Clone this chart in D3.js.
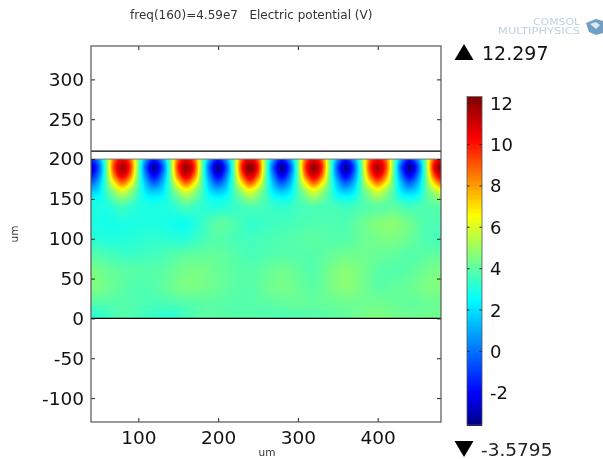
<!DOCTYPE html>
<html><head><meta charset="utf-8">
<script src="https://cdn.jsdelivr.net/npm/d3@7"></script>
<style>
html,body{margin:0;padding:0;background:#fff;overflow:hidden}
#wrap{position:relative;width:603px;height:459px}
canvas,svg{position:absolute;left:0;top:0}
text{font-family:"DejaVu Sans",sans-serif}
</style></head><body><div id="wrap"></div>
<script>
// --- data ---
const titleText = "freq(160)=4.59e7   Electric potential (V)";
const axisLabel = "um";
const xTicks = [100, 200, 300, 400];
const yTicks = [300, 250, 200, 150, 100, 50, 0, -50, -100];
const barTicks = [12, 10, 8, 6, 4, 2, 0, -2];
const maxLabel = "12.297", minLabel = "-3.5795";
const valueMax = 12.297, valueMin = -3.5795;
const boundaryLevels = [210, 0];
const colStart = 40, colEnd = 480;
const rowY = [200,190,180,170,160,150,140,120,100,80,60,40,20,0];
// rows near the electrode surface, read every 10 um
const row200 = [-1.4,0.6,4.5,8.9,10.4,8.9,4.5,0.6,-1.5,0.6,4.5,9.0,10.5,9.0,4.5,0.6,-1.6,0.6,4.5,9.1,10.7,9.1,4.5,0.6,-1.6,0.6,4.5,9.0,10.5,9.0,4.5,0.6,-1.6,0.6,4.5,8.9,10.3,8.9,4.5,0.6,-1.6,0.6,4.5,9.2,10.8];
const row190 = [-2.9,-0.6,4.2,9.6,11.6,9.6,4.2,-0.7,-3.1,-0.7,4.2,9.8,11.8,9.8,4.2,-0.7,-3.3,-0.8,4.3,10.0,12.2,10.0,4.2,-0.8,-3.3,-0.8,4.3,9.8,11.9,9.8,4.3,-0.7,-3.2,-0.7,4.3,9.5,11.5,9.5,4.3,-0.8,-3.3,-0.8,4.3,10.1,12.3];
const row180 = [-2.0,0.1,4.1,8.7,10.8,8.7,4.1,0.1,-2.1,0.1,4.1,8.9,11.0,8.9,4.1,0.0,-2.3,0.0,4.1,9.0,11.2,9.0,4.1,0.0,-2.3,0.0,4.1,8.9,11.0,8.9,4.1,0.0,-2.2,0.0,4.1,8.6,10.7,8.6,4.1,0.0,-2.2,0.0,4.1,9.0,11.3];
const row170 = [-0.3,1.2,3.9,6.8,8.6,6.8,3.9,1.2,-0.3,1.2,3.9,6.9,8.8,6.9,3.9,1.1,-0.4,1.1,4.0,7.0,9.0,7.0,3.9,1.1,-0.4,1.1,4.0,6.9,8.8,6.9,4.0,1.2,-0.3,1.2,4.0,6.8,8.5,6.8,4.0,1.2,-0.3,1.2,4.0,7.0,9.0];
const row160 = [1.5,2.0,3.6,5.0,6.1,5.0,3.6,2.0,1.5,2.0,3.6,5.1,6.2,5.1,3.7,2.0,1.4,2.0,3.7,5.2,6.3,5.2,3.7,2.0,1.4,2.1,3.7,5.1,6.2,5.1,3.7,2.1,1.5,2.1,3.8,5.1,6.1,5.1,3.8,2.1,1.5,2.1,3.8,5.2,6.3];
const row150 = [2.5,2.7,3.2,4.1,4.6,4.1,3.2,2.7,2.5,2.7,3.3,4.1,4.7,4.2,3.4,2.8,2.6,2.8,3.5,4.2,4.8,4.3,3.6,2.9,2.7,2.9,3.6,4.3,4.8,4.3,3.6,3.0,2.8,3.0,3.7,4.4,4.8,4.4,3.7,3.1,2.8,3.1,3.8,4.4,4.8];
const row140 = [3.0,3.0,3.0,3.3,3.6,3.3,3.1,3.0,3.0,3.0,3.1,3.4,3.7,3.5,3.3,3.1,3.1,3.2,3.4,3.6,3.8,3.7,3.6,3.4,3.3,3.4,3.6,3.7,3.8,3.7,3.7,3.6,3.5,3.6,3.8,3.9,4.0,4.0,4.1,3.8,3.6,3.7,3.8,3.9,4.0];
// deeper rows, read every 20 um
const row120 = [3.0,2.9,3.0,3.0,3.0,2.9,2.8,3.4,4.0,3.8,3.4,3.5,3.6,3.7,3.8,3.8,3.8,4.2,4.6,4.7,4.3,3.8,3.8];
const row100 = [3.2,3.1,3.1,3.2,3.3,3.2,3.2,3.6,3.9,3.7,3.6,3.7,3.8,3.9,4.0,3.9,3.9,4.2,4.4,4.5,4.2,3.8,3.7];
const row80 = [3.9,3.7,3.5,3.5,3.6,3.8,4.0,4.1,4.1,3.9,3.7,3.8,3.9,3.9,3.9,4.1,4.3,4.3,4.2,4.1,3.9,4.0,4.1];
const row60 = [4.5,4.2,4.0,3.9,3.9,4.1,4.4,4.4,4.2,4.0,3.9,4.1,4.3,4.1,3.9,4.4,4.7,4.4,4.0,3.9,4.0,4.3,4.5];
const row40 = [4.6,4.3,4.0,3.8,3.9,4.2,4.5,4.4,4.2,4.0,3.9,4.2,4.4,4.2,4.0,4.4,4.7,4.4,4.0,4.1,4.2,4.5,4.6];
const row20 = [3.9,3.9,3.9,3.8,3.7,3.8,3.9,4.0,4.0,3.9,3.9,4.0,4.1,4.2,4.1,4.2,4.3,4.3,4.3,4.2,4.1,4.2,4.3];
const row0 = [3.1,3.4,3.9,3.7,3.4,3.2,3.6,4.0,4.0,3.9,3.9,3.8,3.8,3.8,3.9,4.0,4.1,4.4,4.6,4.4,4.3,4.3,4.4];
const fieldRows = [row200,row190,row180,row170,row160,row150,row140,row120,row100,row80,row60,row40,row20,row0];

// --- scales ---
const W = 603, H = 459;
const x = d3.scaleLinear().domain([40.7, 479.3]).range([91, 441]);
const y = d3.scaleLinear().domain([341.9, -130]).range([46, 422]);
const barY = d3.scaleLinear().domain([valueMax, valueMin]).range([96.5, 425]);
const jetStops = [valueMin, -2, 2.55, 6.6, 10.3, valueMax];
const jet = d3.scaleLinear().domain(jetStops)
  .range(["#000080","#0000ff","#00ffff","#ffff00","#ff0000","#800000"]).clamp(true);
const rowIndex = d3.scaleLinear().domain(rowY).range(d3.range(rowY.length)).clamp(true);

// smooth display of the sampled field (Catmull-Rom between read samples)
const cr = (a,b,c,d,t) => 0.5*((2*b)+(c-a)*t+(2*a-5*b+4*c-d)*t*t+(3*b-a-3*c+d)*t*t*t);
function sampleRow(r, ux){
  const R = fieldRows[Math.max(0, Math.min(fieldRows.length-1, r))];
  const n = R.length;
  const ci = Math.max(0, Math.min(n-1, (ux-colStart)/(colEnd-colStart)*(n-1)));
  const i = Math.min(Math.floor(ci), n-2), t = ci - i;
  const g = k => R[Math.max(0, Math.min(n-1, k))];
  return cr(g(i-1), g(i), g(i+1), g(i+2), t);
}
function fieldAt(ux, uy){
  const ri = rowIndex(uy);
  const j = Math.min(Math.floor(ri), rowY.length-2), t = ri - j;
  return cr(sampleRow(j-1,ux), sampleRow(j,ux), sampleRow(j+1,ux), sampleRow(j+2,ux), t);
}

// --- field on canvas ---
const wrap = d3.select("#wrap");
const cv = wrap.append("canvas").attr("width", W).attr("height", H);
const ctx = cv.node().getContext("2d");
const x0 = Math.round(x.range()[0]), x1 = Math.round(x.range()[1]);
const y0 = Math.round(y(200)), y1 = Math.round(y(0));
for (let py = y0; py < y1; py++) for (let px = x0; px < x1; px++) {
  ctx.fillStyle = jet(fieldAt(x.invert(px + 0.5), y.invert(py + 0.5)));
  ctx.fillRect(px, py, 1, 1);
}

// --- svg overlay ---
const svg = wrap.append("svg").attr("width", W).attr("height", H);
const frameColor = "#555";
boundaryLevels.forEach(v => svg.append("line").attr("x1", x.range()[0]).attr("x2", x.range()[1])
  .attr("y1", y(v)).attr("y2", y(v)).attr("stroke", "#000").attr("stroke-width", 1.2));
svg.append("line").attr("x1", x.range()[0]).attr("x2", x.range()[1]).attr("y1", y(200)).attr("y2", y(200))
  .attr("stroke", "#777").attr("stroke-width", 1);

function styleAxis(g, showText){
  g.select(".domain").remove();
  g.selectAll(".tick line").attr("stroke", "#222").attr("stroke-width", 1);
  if (showText) g.selectAll(".tick text").attr("font-size", 18.5).attr("fill", "#111").attr("font-family", '"DejaVu Sans",sans-serif');
  else g.selectAll(".tick text").remove();
}
const fmt = d3.format("d");
svg.append("g").attr("transform", `translate(${x.range()[0]},0)`)
  .call(d3.axisLeft(y).tickValues(yTicks).tickSize(-4).tickPadding(7).tickFormat(d => String(d)))
  .call(g => styleAxis(g, true));
svg.append("g").attr("transform", `translate(${x.range()[1]},0)`)
  .call(d3.axisRight(y).tickValues(yTicks).tickSize(-4)).call(g => styleAxis(g, false));
svg.append("g").attr("transform", `translate(0,${y.range()[1]})`)
  .call(d3.axisBottom(x).tickValues(xTicks).tickSize(-4).tickPadding(9).tickFormat(fmt))
  .call(g => styleAxis(g, true));
svg.append("g").attr("transform", `translate(0,${y.range()[0]})`)
  .call(d3.axisTop(x).tickValues(xTicks).tickSize(-4)).call(g => styleAxis(g, false));
svg.append("rect").attr("x", x.range()[0]).attr("y", y.range()[0])
  .attr("width", x.range()[1]-x.range()[0]).attr("height", y.range()[1]-y.range()[0])
  .attr("fill", "none").attr("stroke", frameColor).attr("stroke-width", 1.2);

// titles
svg.append("text").attr("x", 130).attr("y", 19).attr("font-size", 12).attr("fill", "#333")
  .style("white-space", "pre").text(titleText);
svg.append("text").attr("transform", "translate(18,234) rotate(-90)").attr("text-anchor", "middle")
  .attr("font-size", 10.5).attr("fill", "#333").text(axisLabel);
svg.append("text").attr("x", 267).attr("y", 456).attr("text-anchor", "middle")
  .attr("font-size", 10.5).attr("fill", "#333").text(axisLabel);

// colour bar
const bx = 467, bw = 15;
const levels = d3.range(0, 256).map(i => valueMin + (i + 0.5) / 256 * (valueMax - valueMin));
const step = (valueMax - valueMin) / 256;
svg.append("g").attr("shape-rendering", "crispEdges").selectAll("rect").data(levels).join("rect")
  .attr("x", bx).attr("width", bw)
  .attr("y", d => barY(d + step / 2))
  .attr("height", d => barY(d - step / 2) - barY(d + step / 2) + 1)
  .attr("fill", d => jet(d));
svg.append("g").attr("transform", `translate(${bx},0)`)
  .call(d3.axisRight(barY).tickValues(barTicks).tickSize(2.5)).call(g => styleAxis(g, false));
svg.append("g").attr("transform", `translate(${bx+bw},0)`)
  .call(d3.axisLeft(barY).tickValues(barTicks).tickSize(2.5)).call(g => styleAxis(g, false));
svg.append("rect").attr("x", bx).attr("y", barY.range()[0]).attr("width", bw)
  .attr("height", barY.range()[1]-barY.range()[0]).attr("fill", "none").attr("stroke", "#555").attr("stroke-width", 0.8);
svg.append("g").selectAll("text").data(barTicks).join("text")
  .attr("x", bx + bw + 8).attr("y", d => barY(d) + 7).attr("font-size", 18).attr("fill", "#111").text(d => d);

// max / min markers
svg.append("path").attr("d", "M464,44 L473.5,60 L454.5,60 Z").attr("fill", "#000");
svg.append("path").attr("d", "M464,457 L473.5,441 L454.5,441 Z").attr("fill", "#000");
svg.append("text").attr("x", 482).attr("y", 60).attr("font-size", 19).attr("fill", "#111").text(maxLabel);
svg.append("text").attr("x", 481).attr("y", 456).attr("font-size", 18.5).attr("fill", "#222").text(minLabel);

// logo
const logoFill = "#bcd0df";
svg.append("text").attr("x", 580).attr("y", 25).attr("text-anchor", "end").attr("font-size", 8)
  .attr("textLength", 47).attr("lengthAdjust", "spacingAndGlyphs").attr("fill", logoFill).text("COMSOL");
svg.append("text").attr("x", 580).attr("y", 34).attr("text-anchor", "end").attr("font-size", 8)
  .attr("textLength", 82).attr("lengthAdjust", "spacingAndGlyphs").attr("fill", logoFill).text("MULTIPHYSICS");
svg.append("path").attr("d", "M586,23 L596,19 L603,21 L603,33 L596,35 L589,32 Z").attr("fill", "#6f9fc4");
svg.append("path").attr("d", "M590,24 L596,22 L600,25 L596,29 Z").attr("fill", "#dbe8f1");
</script></body></html>
